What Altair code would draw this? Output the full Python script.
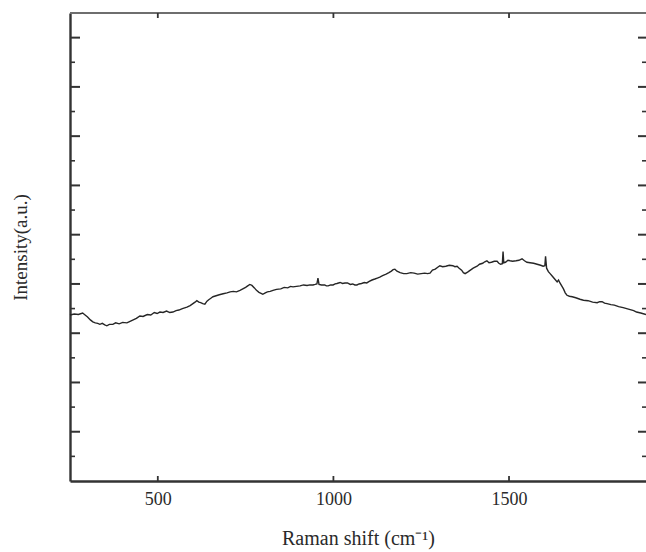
import altair as alt
import pandas as pd

shift = [250, 262, 274, 286, 293, 300, 308, 315, 322, 329, 335, 342, 349, 355, 362, 372, 380, 390, 400, 412,
         421, 430, 439, 449, 458, 470, 480, 490, 498, 506, 515, 525, 534, 543, 552, 560, 570, 583, 592, 600,
         606, 611, 617, 622, 628, 634, 640, 645, 651, 657, 666, 675, 686, 697, 706, 715, 724, 734, 742, 750,
         756, 762, 768, 775, 781, 788, 794, 799, 806, 812, 820, 828, 838, 850, 860, 870, 878, 885, 895, 905,
         915, 925, 933, 942, 948, 953, 956, 959, 966, 975, 980, 985, 992, 999, 1005, 1010, 1019, 1026, 1033, 1040,
         1048, 1055, 1061, 1067, 1073, 1080, 1088, 1095, 1102, 1110, 1118, 1125, 1132, 1140, 1150, 1158, 1165, 1170, 1175, 1181,
         1190, 1200, 1209, 1220, 1230, 1240, 1250, 1260, 1268, 1275, 1282, 1290, 1297, 1303, 1311, 1320, 1330, 1340, 1346, 1352,
         1358, 1365, 1370, 1375, 1382, 1390, 1398, 1409, 1416, 1425, 1431, 1437, 1443, 1450, 1458, 1466, 1471, 1476, 1481, 1483,
         1485, 1490, 1497, 1503, 1510, 1520, 1528, 1537, 1544, 1551, 1560, 1570, 1580, 1590, 1597, 1602, 1604, 1607, 1612, 1617,
         1624, 1630, 1637, 1641, 1645, 1650, 1655, 1660, 1665, 1672, 1680, 1690, 1702, 1712, 1725, 1738, 1751, 1758, 1765, 1772,
         1779, 1790, 1800, 1812, 1825, 1835, 1845, 1855, 1863, 1875, 1890]
intensity = [337, 339, 338, 341, 337, 333, 327, 323, 321, 320, 318, 320, 317, 315, 318, 318, 321, 319, 322, 321,
             324, 327, 330, 335, 334, 338, 337, 342, 340, 343, 342, 345, 342, 343, 346, 347, 350, 353, 356, 360,
             363, 366, 363, 362, 360, 359, 365, 368, 371, 374, 376, 378, 380, 382, 384, 385, 384, 387, 390, 393,
             396, 399, 397, 392, 387, 383, 381, 379, 382, 384, 385, 387, 389, 390, 393, 392, 395, 394, 395, 396,
             398, 397, 398, 398, 399, 400, 412, 399, 398, 398, 396, 396, 398, 398, 400, 401, 403, 401, 402, 402,
             399, 400, 398, 398, 400, 401, 403, 402, 405, 408, 410, 412, 414, 417, 420, 423, 426, 429, 430, 426,
             423, 421, 421, 423, 422, 420, 421, 422, 421, 422, 428, 430, 434, 437, 435, 436, 438, 437, 435, 436,
             432, 428, 423, 421, 424, 428, 432, 436, 440, 442, 445, 447, 443, 444, 446, 446, 442, 440, 441, 466,
             443, 444, 448, 447, 446, 447, 448, 451, 447, 444, 443, 442, 440, 438, 436, 437, 456, 432, 425, 421,
             415, 410, 404, 408, 402, 396, 390, 382, 377, 375, 374, 372, 369, 367, 366, 363, 362, 364, 364, 361,
             360, 358, 357, 354, 352, 350, 348, 346, 343, 341, 338]

x_ticks = [500, 1000, 1500]
y_major = [100, 200, 300, 400, 500, 600, 700, 800, 900]
y_minor = [50, 150, 250, 350, 450, 550, 650, 750, 850]

W, H = 576, 468
SERIF = "Liberation Serif"
AX = "#333333"

xscale = alt.Scale(domain=[250, 1890], nice=False, zero=False)
yscale = alt.Scale(domain=[0, 950], nice=False, zero=False)

xaxis = alt.Axis(values=x_ticks, format="d", ticks=False, tickSize=0, grid=False,
                 domainColor=AX, domainWidth=2.4,
                 labelFont=SERIF, labelFontSize=18, labelColor="#2a2a2a",
                 labelPadding=9, title="Raman shift (cm⁻¹)",
                 titleFont=SERIF, titleFontSize=20, titleFontWeight="normal",
                 titleColor="#2a2a2a", titlePadding=20)
yaxis = alt.Axis(ticks=False, tickSize=0, labels=False, grid=False,
                 domainColor=AX, domainWidth=2.4,
                 title="Intensity(a.u.)", titleFont=SERIF, titleFontSize=19,
                 titleFontWeight="normal", titleColor="#2a2a2a", titlePadding=40)

df = pd.DataFrame({"shift": shift, "intensity": intensity})

line = alt.Chart(df).mark_line(color="#262626", strokeWidth=1.4).encode(
    x=alt.X("shift:Q", scale=xscale, axis=xaxis),
    y=alt.Y("intensity:Q", scale=yscale, axis=yaxis),
)

ymaj = pd.DataFrame({"v": y_major})
ymin = pd.DataFrame({"v": y_minor})
xt = pd.DataFrame({"v": x_ticks})

def yrule(data, x0, x1, w):
    return alt.Chart(data).mark_rule(color=AX, strokeWidth=w).encode(
        y=alt.Y("v:Q", scale=yscale, axis=yaxis),
        x=alt.value(x0), x2=alt.value(x1))

def xrule(data, y0, y1):
    return alt.Chart(data).mark_rule(color=AX, strokeWidth=1.8).encode(
        x=alt.X("v:Q", scale=xscale, axis=xaxis),
        y=alt.value(y0), y2=alt.value(y1))

left_major = yrule(ymaj, 0, 10, 2)
left_minor = yrule(ymin, 0, 5, 1.6)
right_major = yrule(ymaj, W - 8, W, 2)
right_minor = yrule(ymin, W - 4, W, 1.6)
bottom_ticks = xrule(xt, H, H - 5)
top_ticks = xrule(xt, 0, 5)

top_border = alt.Chart(ymaj).mark_rule(color="#6e6e6e", strokeWidth=2.2).encode(
    x=alt.value(0), x2=alt.value(W), y=alt.value(0))

chart = alt.layer(
    line, top_border, left_major, left_minor, right_major, right_minor,
    bottom_ticks, top_ticks
).properties(
    width=W, height=H,
    padding={"left": 70, "top": 13, "right": 0, "bottom": 71},
    autosize=alt.AutoSizeParams(type="none"),
    background="white",
).configure_view(stroke=None)

chart.save("out.html", embed_options={"renderer": "svg", "actions": False})
